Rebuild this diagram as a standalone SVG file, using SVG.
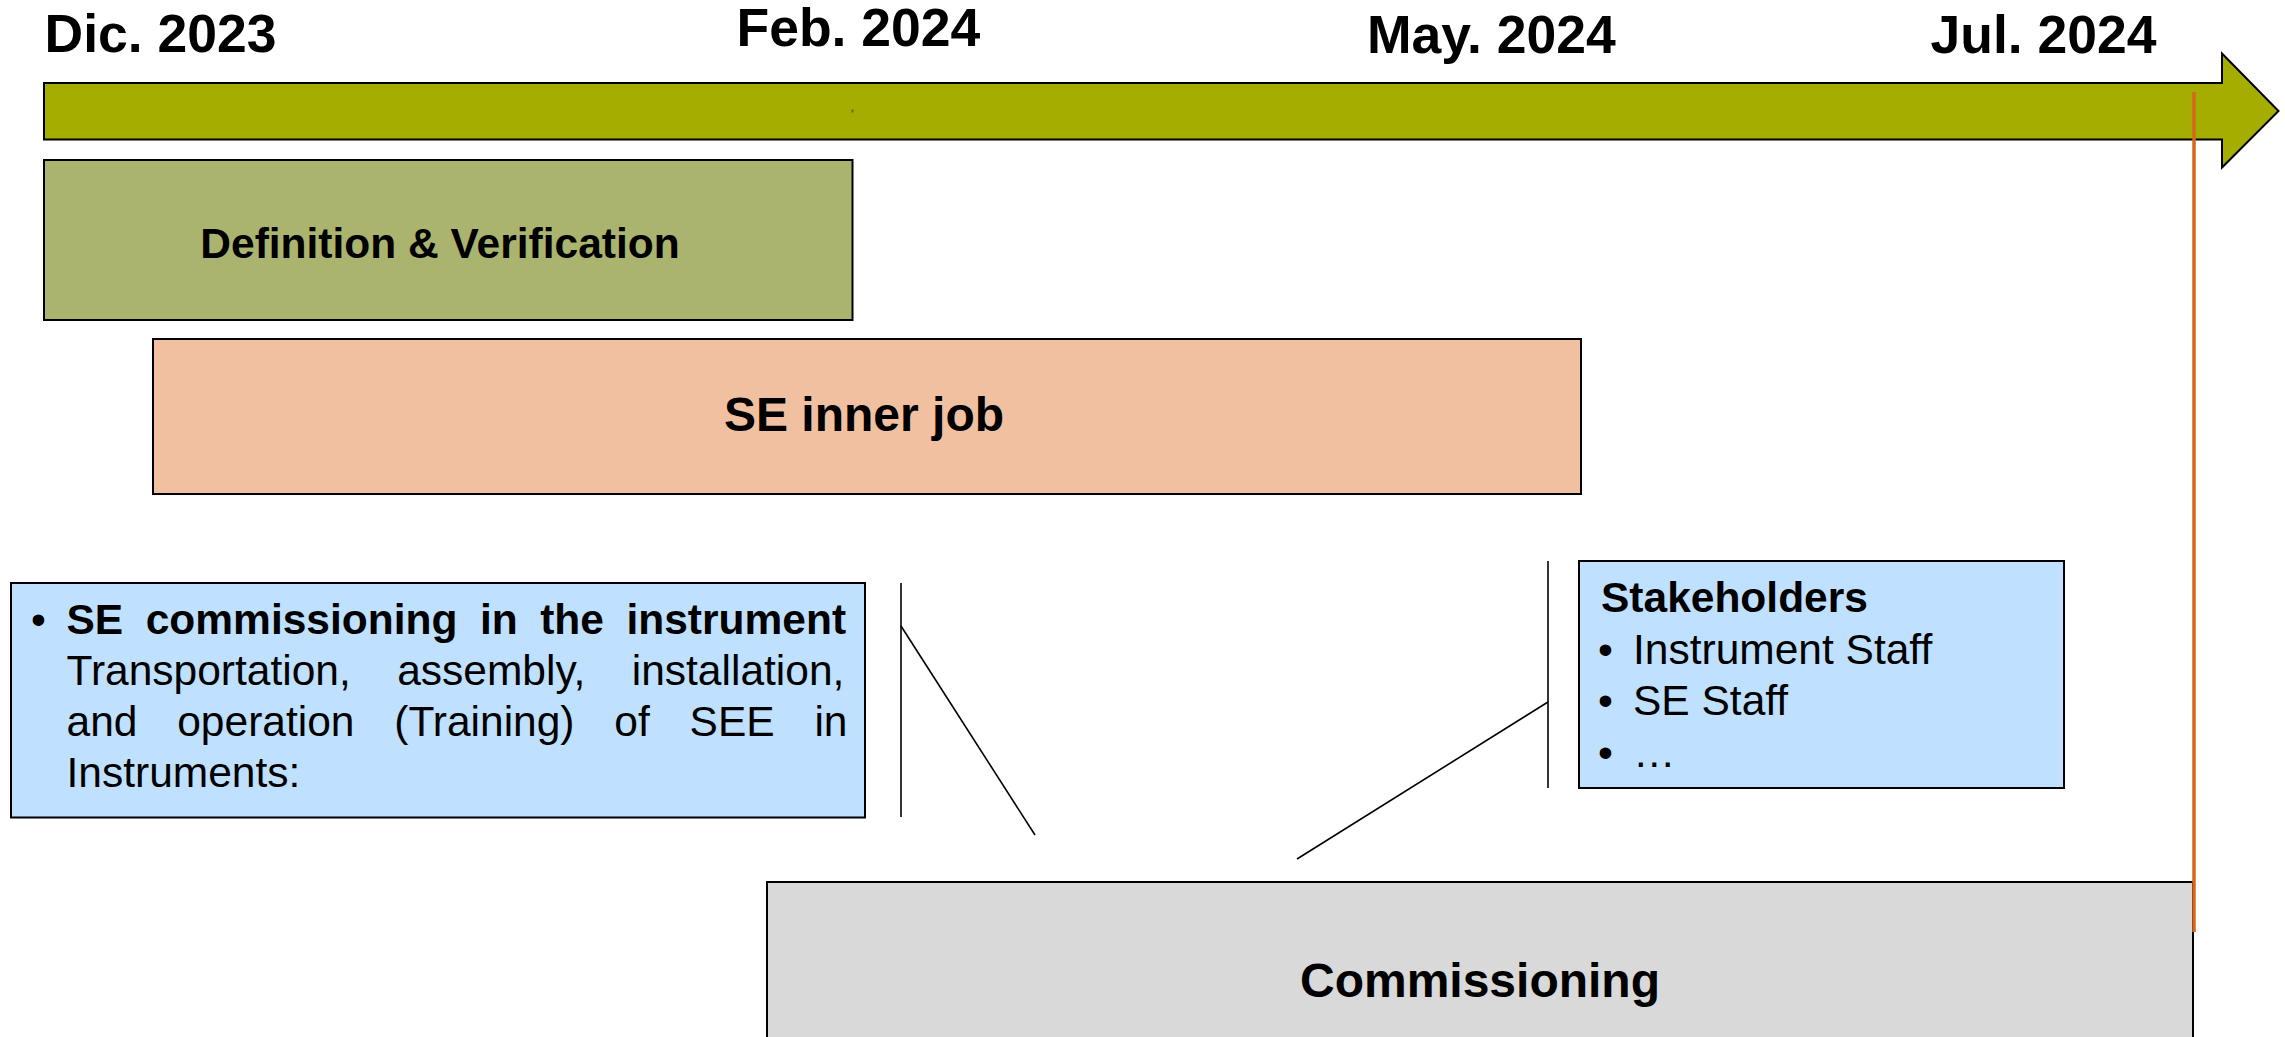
<svg xmlns="http://www.w3.org/2000/svg" width="2285" height="1037" viewBox="0 0 2285 1037">
<style>
text{font-family:"Liberation Sans",Arial,sans-serif;fill:#000}
.date{font-size:53.5px;font-weight:bold}
.box{stroke:#000;stroke-width:2}
.lbl{font-size:42.5px;font-weight:bold;text-anchor:middle}
.big{font-size:48px;font-weight:bold;text-anchor:middle}
.body{font-size:42.5px}
.sk{font-size:42.5px}
.conn line{stroke:#000;stroke-width:1.6;fill:none}
</style>
<rect width="2285" height="1037" fill="#fff"/>
<g id="dates">
<text class="date" x="44.5" y="52">Dic. 2023</text>
<text class="date" x="736.5" y="46">Feb. 2024</text>
<text class="date" x="1367" y="53">May. 2024</text>
<text class="date" x="1930.5" y="53">Jul. 2024</text>
</g>
<g id="timeline">
<path d="M44,83 H2222 V53.5 L2278.5,111 L2222,167.5 V139.5 H44 Z" fill="#A4AD00" stroke="#000" stroke-width="2"/>
<rect x="851.5" y="109.5" width="2" height="3" fill="#6b7000"/>
</g>
<g id="definition">
<rect class="box" x="44" y="160" width="808.5" height="160" fill="#AAB46E"/>
<text class="lbl" x="440" y="258">Definition &amp; Verification</text>
</g>
<g id="se-inner-job">
<rect class="box" x="153" y="339" width="1428" height="155" fill="#F0C0A0"/>
<text class="big" x="864" y="431">SE inner job</text>
</g>
<g id="se-commissioning-note">
<rect class="box" x="11" y="583" width="854" height="234.5" fill="#BFE0FE"/>
<text class="body" x="31" y="634">•</text>
<text class="body" x="66.5" y="634" font-weight="bold" word-spacing="10.7">SE commissioning in the instrument</text>
<text class="body" x="66.5" y="685" word-spacing="34.6">Transportation, assembly, installation,</text>
<text class="body" x="66.5" y="736" word-spacing="28">and operation (Training) of SEE in</text>
<text class="body" x="66.5" y="787">Instruments:</text>
</g>
<g id="stakeholders">
<rect class="box" x="1579" y="561" width="485" height="227" fill="#BFE0FE"/>
<text class="sk" x="1601" y="612" font-weight="bold">Stakeholders</text>
<text class="sk" x="1598" y="664">•</text>
<text class="sk" x="1633" y="664">Instrument Staff</text>
<text class="sk" x="1598" y="715">•</text>
<text class="sk" x="1633" y="715">SE Staff</text>
<text class="sk" x="1598" y="767">•</text>
<text class="sk" x="1633" y="767">…</text>
</g>
<g id="commissioning">
<rect class="box" x="767" y="882" width="1426" height="200" fill="#D9D9D9"/>
<text class="big" x="1480" y="997">Commissioning</text>
</g>
<g id="connectors" class="conn">
<line x1="901" y1="583" x2="901" y2="817"/>
<line x1="901" y1="626" x2="1035" y2="835"/>
<line x1="1548" y1="561" x2="1548" y2="788"/>
<line x1="1548" y1="702" x2="1297" y2="859"/>
</g>
<g id="today-marker">
<line x1="2194" y1="92" x2="2194" y2="932" stroke="#D2691E" stroke-width="3.5"/>
</g>
</svg>
